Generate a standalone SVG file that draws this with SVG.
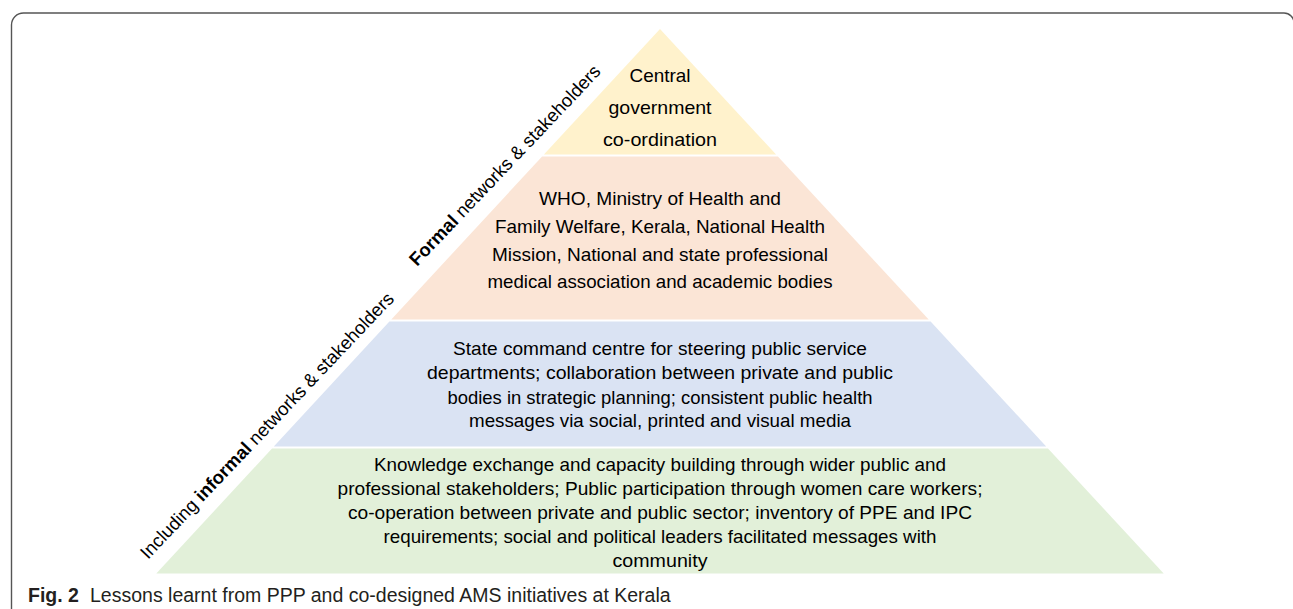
<svg xmlns="http://www.w3.org/2000/svg" width="1293" height="609" viewBox="0 0 1293 609">
  <style>
    .t { font-family: "Liberation Sans", Arial, sans-serif; font-size: 18.5px; fill: #000; text-anchor: middle; }
    .lbl { font-family: "Liberation Sans", Arial, sans-serif; font-size: 18.5px; fill: #000; }
    .b { font-weight: bold; }
    .cap { font-family: "Liberation Sans", Arial, sans-serif; font-size: 19.5px; fill: #231f20; }
    .frame { fill: none; stroke: #555; stroke-width: 1.4; }
  </style>
  <rect width="1293" height="609" fill="#fff"/>
  <path class="frame" d="M 11.5 609 V 25 A 12 12 0 0 1 23.5 13 H 1284 A 10 10 0 0 1 1294 23 V 609"/>

  <g id="layer-central">
    <polygon points="660,29 776.1,154.5 543.9,154.5" fill="#FFF2CC"/>
    <text class="t" x="660" y="82" textLength="61" lengthAdjust="spacingAndGlyphs">Central</text>
    <text class="t" x="660" y="114" textLength="103" lengthAdjust="spacingAndGlyphs">government</text>
    <text class="t" x="660" y="146" textLength="114" lengthAdjust="spacingAndGlyphs">co-ordination</text>
  </g>

  <g id="layer-formal">
    <polygon points="542.1,156.5 777.9,156.5 928.7,319.5 391.3,319.5" fill="#FBE5D6"/>
    <text class="t" x="660" y="205" textLength="242" lengthAdjust="spacingAndGlyphs">WHO, Ministry of Health and</text>
    <text class="t" x="660" y="233" textLength="330" lengthAdjust="spacingAndGlyphs">Family Welfare, Kerala, National Health</text>
    <text class="t" x="660" y="261" textLength="336" lengthAdjust="spacingAndGlyphs">Mission, National and state professional</text>
    <text class="t" x="660" y="288" textLength="345" lengthAdjust="spacingAndGlyphs">medical association and academic bodies</text>
  </g>

  <g id="layer-state">
    <polygon points="389.4,321.5 930.6,321.5 1046.2,446.5 273.8,446.5" fill="#DAE3F3"/>
    <text class="t" x="660" y="355" textLength="414" lengthAdjust="spacingAndGlyphs">State command centre for steering public service</text>
    <text class="t" x="660" y="379" textLength="466" lengthAdjust="spacingAndGlyphs">departments; collaboration between private and public</text>
    <text class="t" x="660" y="404" textLength="425" lengthAdjust="spacingAndGlyphs">bodies in strategic planning; consistent public health</text>
    <text class="t" x="660" y="427" textLength="382" lengthAdjust="spacingAndGlyphs">messages via social, printed and visual media</text>
  </g>

  <g id="layer-community">
    <polygon points="272,448.5 1048,448.5 1163.7,573.5 156.3,573.5" fill="#E2F0D9"/>
    <text class="t" x="660" y="471" textLength="572" lengthAdjust="spacingAndGlyphs">Knowledge exchange and capacity building through wider public and</text>
    <text class="t" x="660" y="495" textLength="645" lengthAdjust="spacingAndGlyphs">professional stakeholders; Public participation through women care workers;</text>
    <text class="t" x="660" y="519" textLength="624" lengthAdjust="spacingAndGlyphs">co-operation between private and public sector; inventory of PPE and IPC</text>
    <text class="t" x="660" y="543" textLength="553" lengthAdjust="spacingAndGlyphs">requirements; social and political leaders facilitated messages with</text>
    <text class="t" x="660" y="567" textLength="95" lengthAdjust="spacingAndGlyphs">community</text>
  </g>

  <g id="side-labels">
    <text class="lbl" transform="translate(148,560) rotate(-46.5)">Including <tspan class="b">informal</tspan> networks &amp; stakeholders</text>
    <text class="lbl" transform="translate(417,267) rotate(-46.5)"><tspan class="b">Formal</tspan> networks &amp; stakeholders</text>
  </g>

  <g id="caption">
    <text class="cap b" x="28" y="602">Fig. 2</text>
    <text class="cap" x="90" y="602">Lessons learnt from PPP and co-designed AMS initiatives at Kerala</text>
  </g>
</svg>
